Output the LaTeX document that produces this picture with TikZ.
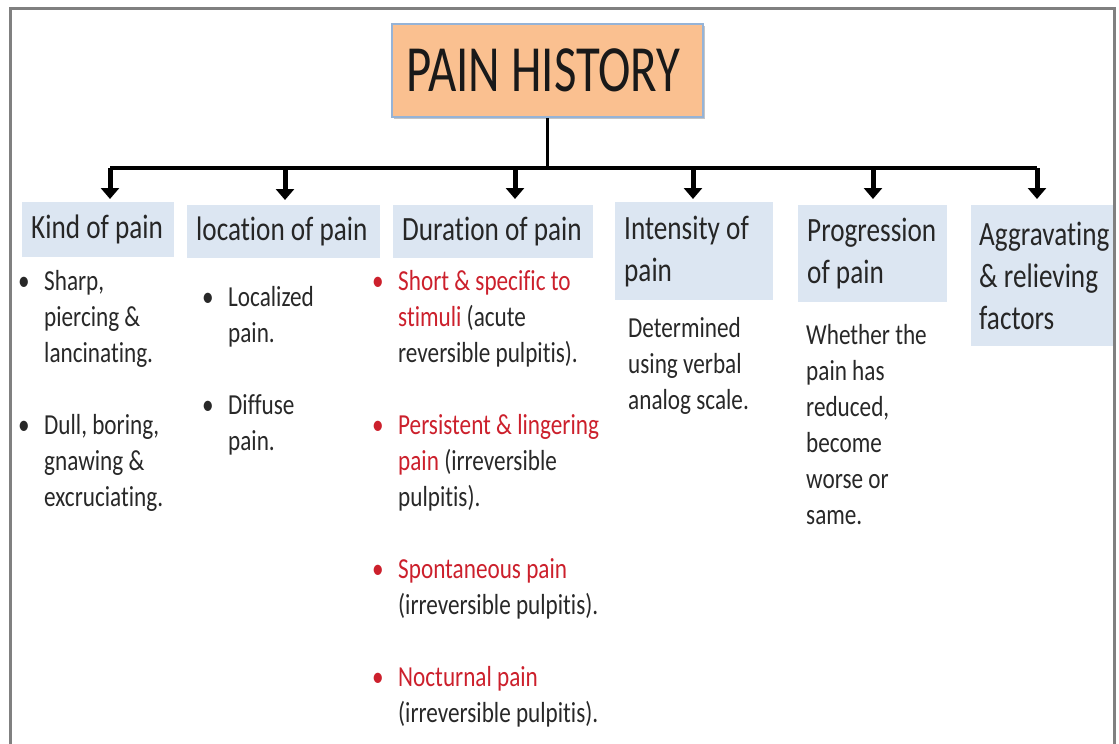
\documentclass[tikz,border=0pt]{standalone}
\usepackage{fontspec}
\setmainfont[FakeStretch=0.8,Ligatures=NoCommon]{Carlito}
\newfontfamily\titlefont[FakeStretch=0.74]{Carlito}
\usetikzlibrary{arrows.meta,shadows}
\definecolor{titlefill}{RGB}{250,192,144}
\definecolor{titleline}{RGB}{149,179,215}
\definecolor{hdrblue}{RGB}{220,230,242}
\definecolor{painred}{RGB}{204,32,44}
\definecolor{bodygray}{RGB}{40,40,40}
\newcommand{\hdrfont}{\fontsize{34}{42}\selectfont}
\newcommand{\bodyfont}{\fontsize{29}{36}\selectfont}
\newcommand{\hl}[1]{\mbox{\spaceskip=0pt\relax #1}}
\newcommand{\bl}[1][bodygray]{\makebox[26pt][l]{\textcolor{#1}{\textbullet}}}
\newcommand{\ind}{\hspace*{26pt}}

\begin{document}
\begin{tikzpicture}[x=1pt,y=-1pt,
  hdr/.style={fill=hdrblue,anchor=north west,align=left,inner xsep=9pt,inner ysep=0pt,font=\hdrfont,text=black!85},
  txt/.style={anchor=north west,align=left,inner sep=0pt,font=\bodyfont,text=bodygray},
  arr/.style={line width=5pt,-{Triangle[width=18pt,length=11pt]}},
  bar/.style={line width=3.5pt}]
\useasboundingbox (0,0) rectangle (1119,744);

% title
\node[fill=titlefill,draw=titleline,line width=1.5pt,minimum width=311pt,minimum height=93pt,inner sep=0pt,
  drop shadow={shadow xshift=2pt,shadow yshift=-2pt,fill=black!45},
  font=\titlefont\fontsize{66}{70}\selectfont,text=black!90] (title) at (547.5,70.5) {\hspace*{-8pt}PAIN HISTORY};

% headings
\node[hdr,text width=134pt,minimum height=55pt] (kind) at (22,202) {\hl{Kind of pain}};
\node[hdr,text width=175pt,minimum height=53pt] (loc) at (187,205) {\hl{location of pain}};
\node[hdr,text width=182pt,minimum height=53pt] (dur) at (393,205) {\hl{Duration of pain}};
\node[hdr,text width=140pt,minimum height=98pt] (inten) at (615,202) {\hl{Intensity of}\\pain};
\node[hdr,text width=131pt,minimum height=97pt] (prog) at (798,205) {\hl{Progression}\\\hl{of pain}};
\node[hdr,inner xsep=8pt,text width=128pt,minimum height=141pt] (aggr) at (971,205) {\hl{Aggravating}\\\hl{\& relieving}\\factors};

% tree
\coordinate (b1) at (110,168);
\coordinate (b2) at (285,168);
\coordinate (b3) at (515,168);
\coordinate (b4) at (693,168);
\coordinate (b5) at (873,168);
\coordinate (b6) at (1037,168);
\draw[line width=2.5pt] (title.south) -- (title.south |- b1);
\draw[bar] (b1) -- (b6);
\draw[arr,shorten >=3pt] (b1) -- (b1 |- kind.north);
\draw[arr,shorten >=5pt] (b2) -- (b2 |- loc.north);
\draw[arr,shorten >=6pt] (b3) -- (b3 |- dur.north);
\draw[arr,shorten >=3pt] (b4) -- (b4 |- inten.north);
\draw[arr,shorten >=6pt] (b5) -- (b5 |- prog.north);
\draw[arr,shorten >=6pt] (b6) -- (b6 |- aggr.north);

% body text
\node[txt] (kindtxt) at (18,270) {\bl Sharp,\\\ind piercing \&\\\ind lancinating.\\[36pt]
  \bl Dull, boring,\\\ind gnawing \&\\\ind excruciating.};
\node[txt] (loctxt) at (202,286) {\bl Localized\\\ind pain.\\[36pt]
  \bl Diffuse\\\ind pain.};
\node[txt] (durtxt) at (372,270) {\bl[painred]\textcolor{painred}{Short \& specific to}\\
  \ind\textcolor{painred}{stimuli} (acute\\\ind reversible pulpitis).\\[36pt]
  \bl[painred]\textcolor{painred}{Persistent \& lingering}\\
  \ind\textcolor{painred}{pain} (irreversible\\\ind pulpitis).\\[36pt]
  \bl[painred]\textcolor{painred}{Spontaneous pain}\\\ind (irreversible pulpitis).\\[36pt]
  \bl[painred]\textcolor{painred}{Nocturnal pain}\\\ind (irreversible pulpitis).};
\node[txt] (intentxt) at (628,317) {Determined\\using verbal\\analog scale.};
\node[txt] (progtxt) at (806,324) {Whether the\\pain has\\reduced,\\become\\worse or\\same.};

% frame
\draw[line width=3pt,black!50] (10,744) -- (10,8) -- (1114,8) -- (1114,744);
\end{tikzpicture}
\end{document}
